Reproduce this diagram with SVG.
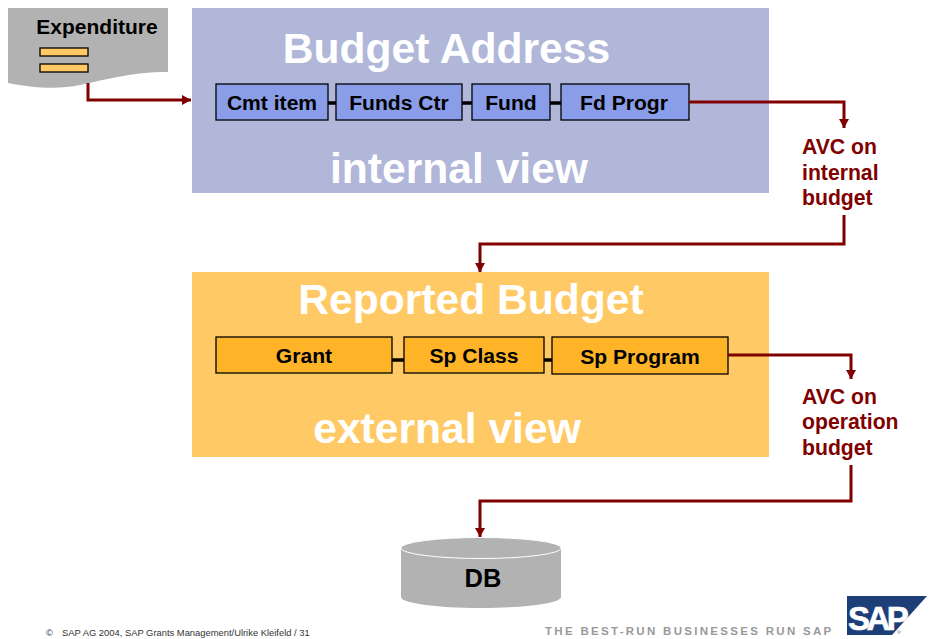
<svg xmlns="http://www.w3.org/2000/svg" width="932" height="639" viewBox="0 0 932 639">
<style>
text{font-family:"Liberation Sans",Arial,sans-serif;font-weight:bold}
.big{fill:#fff;font-size:42.6px;text-anchor:middle}
.box{font-size:21.1px;fill:#000;text-anchor:middle}
.avc{font-size:21.2px;fill:#800000}
.bl{stroke:#000;stroke-width:1.3}
.b{fill:#8a9de8}
.o{fill:#ffb428}
.c{fill:none;stroke:#800000;stroke-width:3;marker-end:url(#a)}
.k{stroke:#000;stroke-width:3.5;fill:none}
</style>
<defs><marker id="a" markerUnits="userSpaceOnUse" markerWidth="10" markerHeight="10" refX="9" refY="5" orient="auto"><path d="M0 0L9 5L0 10Z" fill="#800000"/></marker></defs>
<rect width="932" height="639" fill="#fff"/>
<g id="internal-view"><rect x="192" y="8" width="577" height="185" fill="#b0b7d9"/>
<text class="big" x="446.500" y="63">Budget Address</text><text class="big" x="459" y="183">internal view</text></g>
<g id="external-view"><rect x="192" y="272" width="577" height="185" fill="#ffca66"/>
<text class="big" x="471" y="314">Reported Budget</text><text class="big" x="447" y="443">external view</text></g>
<g id="links"><path class="k" d="M328 103H336M462 103H472M550 103H561M392 360H404M544 360H552"/></g>
<g id="expenditure"><path d="M8 8H168V72C130 72 105 80 80 85C60 89 40 89 8 83Z" fill="#b2b2b2"/>
<rect class="bl" x="40" y="48" width="48" height="8" fill="#ffca66"/><rect class="bl" x="40" y="64" width="48" height="8" fill="#ffca66"/>
<text x="97" y="34" font-size="21" text-anchor="middle">Expenditure</text></g>
<g id="cmt-item"><rect class="bl b" x="216" y="84" width="112" height="36"/><text class="box" x="272" y="110">Cmt item</text></g>
<g id="funds-ctr"><rect class="bl b" x="336" y="84" width="126" height="36"/><text class="box" x="399" y="110">Funds Ctr</text></g>
<g id="fund"><rect class="bl b" x="472" y="84" width="78" height="36"/><text class="box" x="511" y="110">Fund</text></g>
<g id="fd-progr"><rect class="bl b" x="561" y="84" width="128" height="36"/><text class="box" x="624" y="110">Fd Progr</text></g>
<g id="grant"><rect class="bl o" x="216" y="337" width="176" height="36"/><text class="box" x="304" y="363">Grant</text></g>
<g id="sp-class"><rect class="bl o" x="404" y="337" width="140" height="36"/><text class="box" x="474" y="363">Sp Class</text></g>
<g id="sp-program"><rect class="bl o" x="552" y="337" width="176" height="37"/><text class="box" x="640" y="364">Sp Program</text></g>
<g id="avc-internal"><text class="avc" x="802" y="154">AVC on</text><text class="avc" x="802" y="180">internal</text><text class="avc" x="802" y="205">budget</text></g>
<g id="avc-operation"><text class="avc" x="802" y="404">AVC on</text><text class="avc" x="802" y="429">operation</text><text class="avc" x="802" y="455">budget</text></g>
<g id="db"><path d="M401 548V597C401 603 436 608 481 608S561 603 561 597V548Z" fill="#b2b2b2"/><ellipse cx="481" cy="548" rx="80" ry="10.500" fill="#b2b2b2" stroke="#fff" stroke-width="1"/>
<text x="483" y="587" font-size="25.500" text-anchor="middle">DB</text></g>
<g id="connectors">
<path class="c" d="M88 83V100H191"/>
<path class="c" d="M689 102H844V128"/>
<path class="c" d="M844 215V244H480V272"/>
<path class="c" d="M728 355H851V379"/>
<path class="c" d="M851 465V501H480V537"/>
</g>
<g id="footer"><text x="46" y="636" font-size="9.400" style="font-weight:normal" fill="#333">©</text><text x="62" y="636" font-size="9.400" style="font-weight:normal" fill="#333">SAP AG 2004, SAP Grants Management/Ulrike Kleifeld / 31</text>
<text x="545" y="635" font-size="11.500" fill="#999" style="letter-spacing:2.300px">THE BEST-RUN BUSINESSES RUN SAP</text></g>
<g id="sap-logo"><path d="M847 596H927L892 635H847Z" fill="#1c3f77"/><text x="848" y="630" font-size="33" fill="#fff" stroke="#fff" stroke-width=".6" style="letter-spacing:-3.500px">SAP</text><circle cx="899" cy="632" r="2" fill="#c8d0dc"/></g>
</svg>
